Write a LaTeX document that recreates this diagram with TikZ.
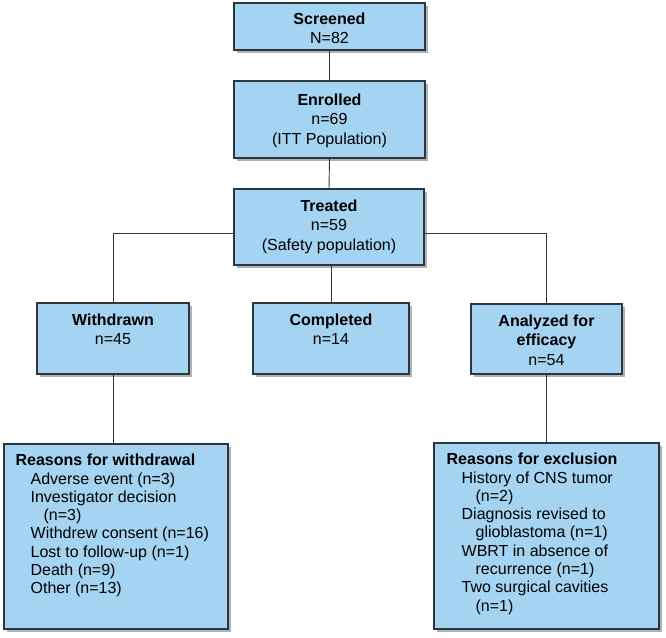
\documentclass[tikz,border=0pt]{standalone}
\usepackage{fontspec}
\setmainfont{Liberation Sans}
\usetikzlibrary{shadows}
\definecolor{boxfill}{HTML}{A5D4F2}
\definecolor{boxline}{HTML}{2B3640}
\definecolor{conn}{HTML}{333333}
\tikzset{
  fbox/.style={draw=boxline, line width=1.1pt, fill=boxfill, inner sep=0pt,
    drop shadow={shadow xshift=3pt, shadow yshift=-3pt, fill=black, opacity=0.3}},
  ctext/.style={anchor=north, align=center, inner sep=0pt,
    font=\fontsize{16}{19.4}\selectfont},
  ltext/.style={anchor=north west, align=left, inner sep=0pt,
    font=\fontsize{16}{18.3}\selectfont},
  conn/.style={draw=conn, line width=0.9pt}
}
\begin{document}
\begin{tikzpicture}[x=1pt,y=1pt]
\useasboundingbox (0,0) rectangle (666,-637);
% boxes
\node[fbox, minimum width=191pt, minimum height=47pt] (scr) at (329.5,-26.5) {};
\node[fbox, minimum width=191pt, minimum height=77pt] (enr) at (329.5,-119.5) {};
\node[fbox, minimum width=190pt, minimum height=76pt] (tre) at (329,-227) {};
\node[fbox, minimum width=152pt, minimum height=71pt] (wd) at (113,-338.5) {};
\node[fbox, minimum width=156pt, minimum height=71pt] (com) at (331,-338.5) {};
\node[fbox, minimum width=151pt, minimum height=70pt] (an) at (546.5,-339) {};
\node[fbox, minimum width=224pt, minimum height=185pt] (rw) at (116,-536.5) {};
\node[fbox, minimum width=225pt, minimum height=186pt] (rx) at (546.5,-536) {};
% texts
\node[ctext] (scrt) at ([yshift=-10pt]scr.north) {\textbf{Screened}\\N=82};
\node[ctext] (enrt) at ([yshift=-13pt]enr.north) {\textbf{Enrolled}\\n=69\\(ITT Population)};
\node[ctext] (tret) at ([yshift=-11pt]tre.north) {\textbf{Treated}\\n=59\\(Safety population)};
\node[ctext] (wdt) at ([yshift=-11pt]wd.north) {\textbf{Withdrawn}\\n=45};
\node[ctext] (comt) at ([yshift=-11pt]com.north) {\textbf{Completed}\\n=14};
\node[ctext] (ant) at ([yshift=-11pt]an.north) {\textbf{Analyzed for}\\\textbf{efficacy}\\n=54};
\node[ltext] (rwt) at ([xshift=12pt,yshift=-10.5pt]rw.north west) {\textbf{Reasons for withdrawal}\\
\hspace*{15pt}Adverse event (n=3)\\
\hspace*{15pt}Investigator decision\\
\hspace*{28pt}(n=3)\\
\hspace*{15pt}Withdrew consent (n=16)\\
\hspace*{15pt}Lost to follow-up (n=1)\\
\hspace*{15pt}Death (n=9)\\
\hspace*{15pt}Other (n=13)};
\node[ltext] (rxt) at ([xshift=13pt,yshift=-10.5pt]rx.north west) {\textbf{Reasons for exclusion}\\
\hspace*{15pt}History of CNS tumor\\
\hspace*{29pt}(n=2)\\
\hspace*{15pt}Diagnosis revised to\\
\hspace*{29pt}glioblastoma (n=1)\\
\hspace*{15pt}WBRT in absence of\\
\hspace*{29pt}recurrence (n=1)\\
\hspace*{15pt}Two surgical cavities\\
\hspace*{29pt}(n=1)};
% connectors
\draw[conn] (scr.south) -- (enr.north);
\draw[conn] (enr.south) -- (tre.north);
\draw[conn] ([yshift=-6pt]tre.west) -| (wd.north);
\draw[conn] ([yshift=-6pt]tre.east) -| (an.north);
\draw[conn] (tre.south -| com.north) -- (com.north);
\draw[conn] (wd.south) -- (wd.south |- rw.north);
\draw[conn] (an.south) -- (an.south |- rx.north);
\end{tikzpicture}
\end{document}
